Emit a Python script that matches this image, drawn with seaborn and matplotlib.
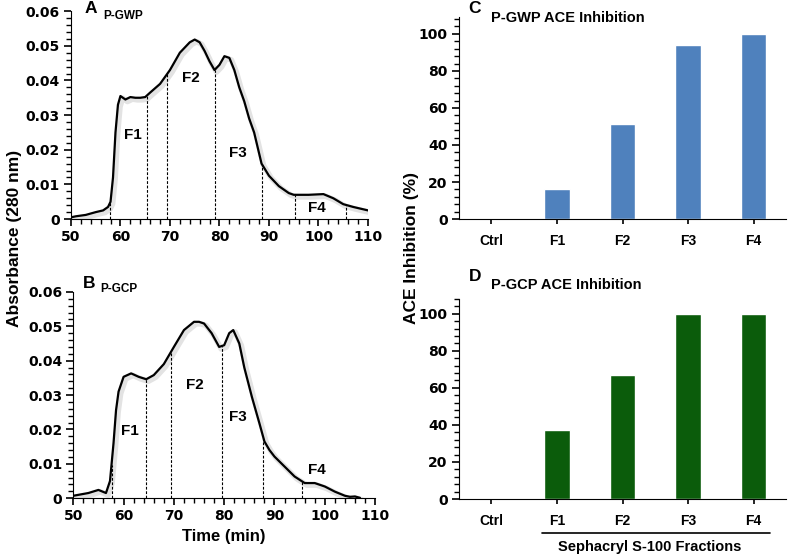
"""Cromatogramas de gel filtração e inibição da ECA por fração."""
import matplotlib
matplotlib.use('Agg')
import matplotlib.pyplot as plt
import matplotlib.patheffects as pe
from matplotlib.ticker import MultipleLocator
import numpy as np
import pandas as pd
import seaborn as sns

# curva P-GWP (tempo em min, absorbância 280 nm)
gwp_tempo = [50, 51, 53, 55, 56.5, 57.5, 58, 58.5, 59, 59.5, 60, 61, 62, 63, 64, 65,
             66, 68, 70, 72, 74, 75, 76, 77, 78, 79, 80, 81, 82, 83, 84, 85, 86, 87,
             88, 88.5, 90, 92, 94, 95, 98, 101, 103, 105, 107, 110]
gwp_abs = [0.0005, 0.0008, 0.0012, 0.002, 0.0025, 0.0035, 0.005, 0.012, 0.025, 0.033,
           0.0355, 0.0345, 0.0352, 0.035, 0.035, 0.0352, 0.0365, 0.039, 0.043, 0.048,
           0.051, 0.0518, 0.051, 0.0485, 0.0455, 0.043, 0.0445, 0.047, 0.0465, 0.043,
           0.038, 0.034, 0.029, 0.025, 0.019, 0.016, 0.0125, 0.0095, 0.0075, 0.007,
           0.007, 0.0072, 0.006, 0.0043, 0.0035, 0.0025]
gwp_cortes = [57.9, 65.3, 69.4, 79.1, 88.5, 95.3, 105.6]

# curva P-GCP
gcp_tempo = [50, 53, 55, 56.5, 57.3, 58, 58.5, 59, 60, 61.5, 63, 64.5, 66, 68, 70, 72,
             74, 75, 76, 77.5, 79, 80, 81, 81.8, 83, 84, 85.5, 87, 88, 89, 90, 92, 94,
             96, 98, 100, 102, 104, 105, 106, 107]
gcp_abs = [0.0007, 0.0015, 0.0024, 0.0015, 0.005, 0.016, 0.0256, 0.031, 0.0353, 0.0363,
           0.0353, 0.0346, 0.0358, 0.039, 0.044, 0.0489, 0.0513, 0.0513, 0.0508, 0.048,
           0.044, 0.0445, 0.048, 0.0489, 0.045, 0.038, 0.0295, 0.0218, 0.0165, 0.014,
           0.0121, 0.0092, 0.0063, 0.0044, 0.0044, 0.0034, 0.0019, 0.0007, 0.0004,
           0.0005, 0.0001]
gcp_cortes = [57.6, 64.4, 69.4, 79.5, 87.8, 95.4]

fracoes = ['F1', 'F2', 'F3', 'F4']
gwp_rot_x = [62.6, 74.3, 83.8, 99.6]
gwp_rot_y = [0.0243, 0.0406, 0.019, 0.0032]
gcp_rot_x = [61.3, 74.2, 82.8, 98.4]
gcp_rot_y = [0.0194, 0.0329, 0.0237, 0.0082]

# inibição da ECA (%)
categorias = ['Ctrl', 'F1', 'F2', 'F3', 'F4']
gwp_inib = [0, 16, 51.5, 94, 100]
gcp_inib = [0, 37.5, 67, 100, 100]

sns.set_style('ticks')
plt.rcParams['font.family'] = ['Liberation Sans', 'DejaVu Sans']
plt.rcParams['font.weight'] = 'bold'
plt.rcParams['axes.labelweight'] = 'bold'
for k in ['text.color', 'axes.labelcolor', 'axes.edgecolor', 'xtick.color', 'ytick.color']:
    plt.rcParams[k] = 'black'

fig = plt.figure(figsize=(7.88, 5.56), dpi=100)
ax_a = fig.add_axes([0.090, 0.606, 0.377, 0.374])
ax_b = fig.add_axes([0.093, 0.104, 0.383, 0.371])
ax_c = fig.add_axes([0.582, 0.606, 0.416, 0.363])
ax_d = fig.add_axes([0.582, 0.1025, 0.416, 0.360])

sombra = [pe.SimpleLineShadow(offset=(1.5, -1.5), shadow_color='0.5', alpha=0.22, linewidth=4),
          pe.Normal()]


def ticks_numericos(ax, eixos):
    """Aplica a fonte larga nos rótulos numéricos."""
    for eixo in eixos:
        for lbl in eixo.get_ticklabels():
            lbl.set_fontfamily('DejaVu Sans')
            lbl.set_fontweight('bold')
            lbl.set_fontsize(10)


def grafico_curva(ax, tempo, absorb, cortes, rot_x, rot_y, letra, nome, pos):
    """Desenha a curva de eluição com as divisões das frações."""
    df = pd.DataFrame({'tempo': tempo, 'abs': absorb})
    sns.lineplot(data=df, x='tempo', y='abs', ax=ax, color='black', lw=1.6,
                 path_effects=sombra)
    for c in cortes:
        ax.vlines(c, 0, np.interp(c, tempo, absorb), colors='black',
                  linestyles=(0, (2.5, 1.5)), lw=0.8)
    for f, x, y in zip(fracoes, rot_x, rot_y):
        ax.text(x, y, f, ha='center', va='center', fontsize=11, fontweight='bold')
    sns.despine(ax=ax)
    ax.set_xlim(50, 110)
    ax.set_ylim(0, 0.06)
    ax.xaxis.set_major_locator(MultipleLocator(10))
    ax.xaxis.set_minor_locator(MultipleLocator(2))
    ax.yaxis.set_major_locator(MultipleLocator(0.01))
    ax.yaxis.set_minor_locator(MultipleLocator(0.002))
    ax.yaxis.set_major_formatter(lambda v, p: '0' if v == 0 else f'{v:.2f}')
    ax.tick_params(which='major', length=5, width=1.2, color='black', pad=3)
    ax.tick_params(which='minor', length=3.5, width=1, color='black')
    ax.set_xlabel('')
    ax.set_ylabel('')
    ticks_numericos(ax, [ax.xaxis, ax.yaxis])
    ax.text(pos[0], pos[1], letra, transform=ax.transAxes, fontsize=12.5,
            fontweight='bold', ha='left', va='center')
    ax.text(pos[2], pos[3], nome, transform=ax.transAxes, fontsize=8.5,
            fontweight='bold', ha='left', va='center')


def grafico_barras(ax, valores, cor, ytop, letra, titulo, pos):
    """Barras de inibição da ECA por fração."""
    df = pd.DataFrame({'cat': categorias, 'val': valores})
    sns.barplot(data=df, x='cat', y='val', ax=ax, color=cor, width=0.39,
                saturation=1)
    sns.despine(ax=ax)
    ax.set_ylim(0, ytop)
    ax.set_xlim(-0.5, 4.5)
    ax.yaxis.set_major_locator(MultipleLocator(20))
    ax.yaxis.set_minor_locator(MultipleLocator(4))
    ax.tick_params(which='major', length=5, width=1.2, color='black', pad=3)
    ax.tick_params(axis='y', which='minor', length=3.5, width=1, color='black')
    ax.tick_params(axis='x', length=3.5, pad=7, labelsize=10)
    ax.set_xlabel('')
    ax.set_ylabel('')
    ticks_numericos(ax, [ax.yaxis])
    ax.text(pos[0], pos[1], letra, transform=ax.transAxes, fontsize=12.5,
            fontweight='bold', ha='left', va='center')
    ax.text(pos[2], pos[3], titulo, transform=ax.transAxes, fontsize=10.5,
            fontweight='bold', ha='left', va='center')


grafico_curva(ax_a, gwp_tempo, gwp_abs, gwp_cortes, gwp_rot_x, gwp_rot_y, 'A', 'P-GWP',
              (0.047, 1.015, 0.108, 0.976))
grafico_curva(ax_b, gcp_tempo, gcp_abs, gcp_cortes, gcp_rot_x, gcp_rot_y, 'B', 'P-GCP',
              (0.033, 1.04, 0.09, 1.015))
ax_b.set_xlabel('Time (min)', fontsize=12, fontweight='bold')

grafico_barras(ax_c, gwp_inib, '#4F81BD', 109, 'C', 'P-GWP ACE Inhibition',
               (0.03, 1.045, 0.10, 0.995))
grafico_barras(ax_d, gcp_inib, '#0B5C0B', 108, 'D', 'P-GCP ACE Inhibition',
               (0.03, 1.11, 0.10, 1.07))

fig.text(0.019, 0.572, 'Absorbance (280 nm)', rotation=90, ha='center', va='center',
         fontsize=12.5, fontweight='bold')
fig.text(0.522, 0.554, 'ACE Inhibition (%)', rotation=90, ha='center', va='center',
         fontsize=12.5, fontweight='bold')

# linha e rótulo das frações do Sephacryl
fig.add_artist(plt.Line2D([542 / 788, 770 / 788], [1 - 533 / 556, 1 - 533 / 556],
                          color='black', lw=1.2))
fig.text(650 / 788, 1 - 547 / 556, 'Sephacryl S-100 Fractions', ha='center',
         va='center', fontsize=10.5, fontweight='bold')

fig.savefig('out.png', dpi=100)
